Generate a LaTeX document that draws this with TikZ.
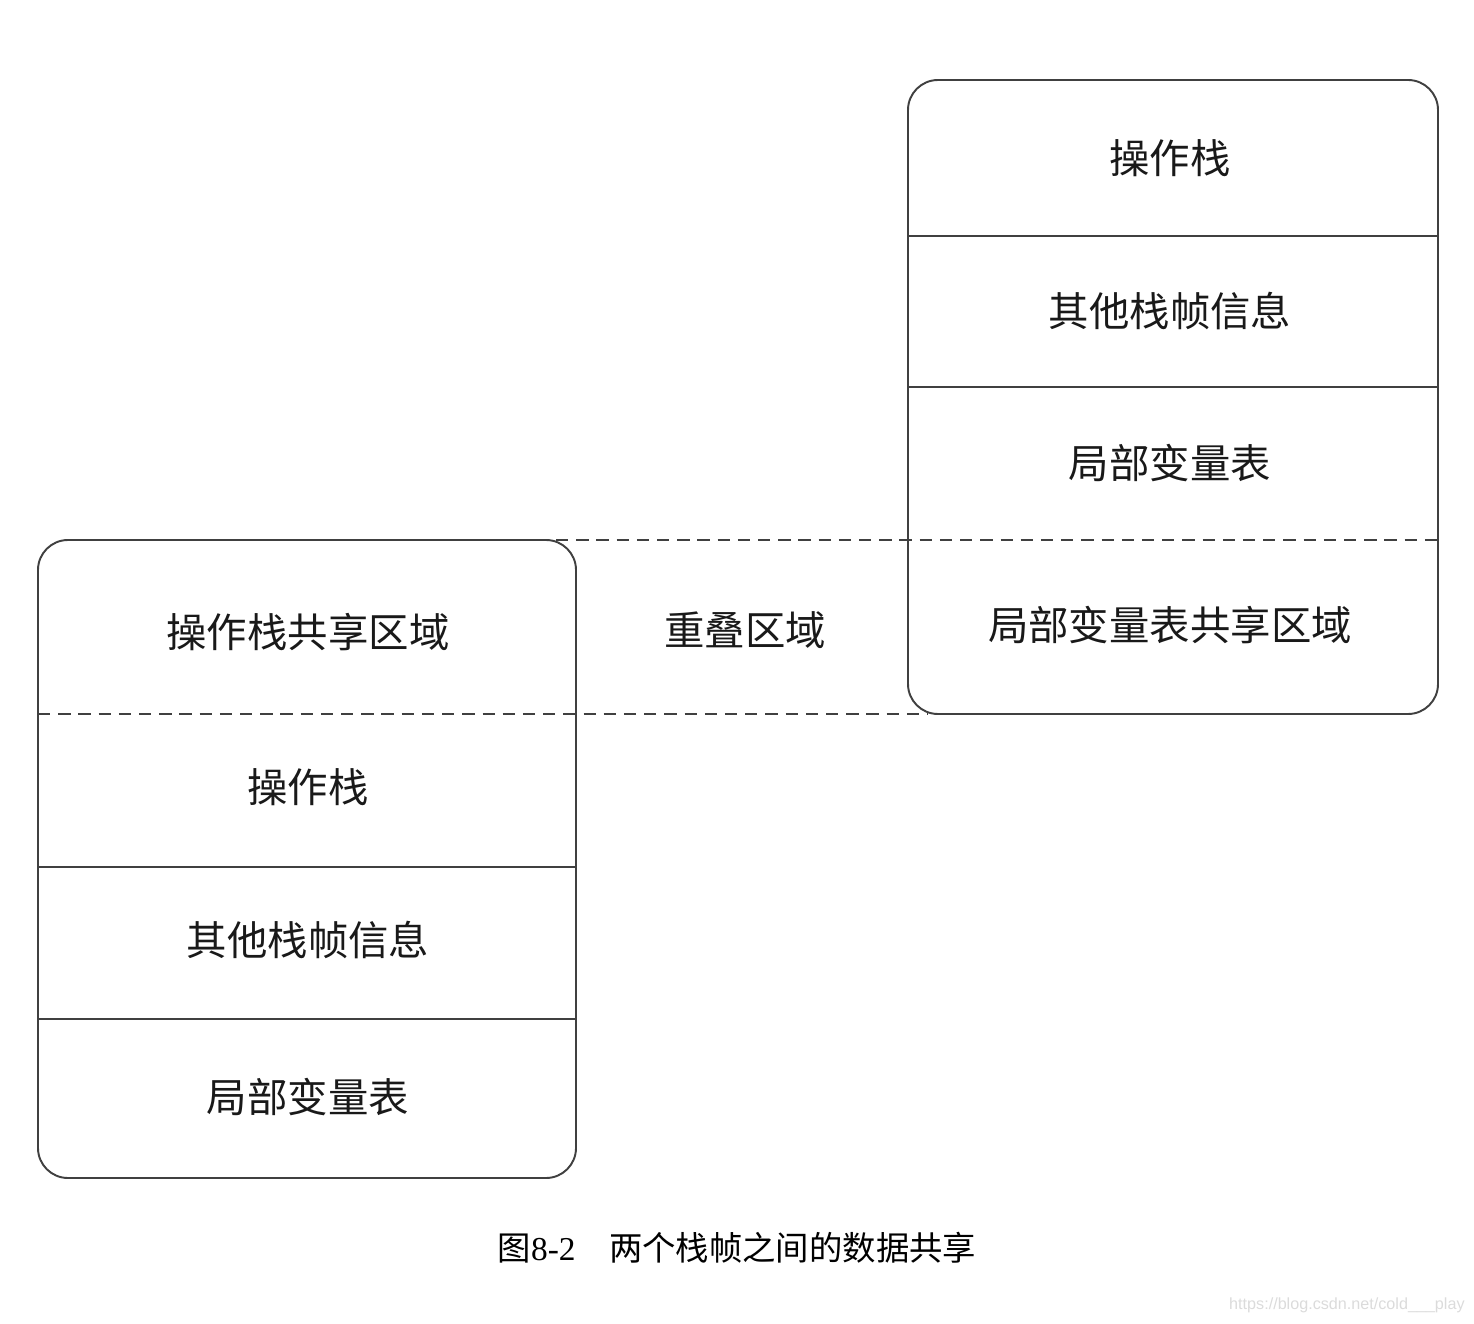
\documentclass[tikz,border=0pt]{standalone}
\usepackage{fontspec}
\setmainfont{Liberation Serif}
\newfontfamily\cjk{Noto Sans CJK SC}
\newfontfamily\wmfont{Liberation Sans}
\begin{document}
\begin{tikzpicture}[x=0.02cm,y=-0.02cm,
  frame/.style={draw=black!75,line width=1.1pt,rounded corners=0.6cm},
  divider/.style={draw=black!75,line width=1.1pt},
  dashline/.style={draw=black!75,line width=1.1pt,dash pattern=on 7pt off 4.5pt},
  cell/.style={font=\cjk\fontsize{23}{27}\selectfont,inner sep=0pt,text=black!90},
  captxt/.style={font=\fontsize{19}{22}\selectfont,inner sep=0pt},
  wm/.style={font=\wmfont\fontsize{9.2}{11}\selectfont,text=black!14,inner sep=0pt}]
\useasboundingbox (0,0) rectangle (1474,1324);
% right frame
\draw[frame] (908,80) rectangle (1438,714);
\draw[divider] (908,236) -- (1438,236);
\draw[divider] (908,387) -- (1438,387);
% left frame
\draw[frame] (38,540) rectangle (576,1178);
\draw[divider] (38,867) -- (576,867);
\draw[divider] (38,1019) -- (576,1019);
% overlap dashed lines
\coordinate (d1a) at (556,540);
\coordinate (d1b) at (1438,540);
\coordinate (d2a) at (38,714);
\coordinate (d2b) at (928,714);
\draw[dashline] (d1a) -- (d1b);
\draw[dashline] (d2a) -- (d2b);
% right texts
\node[cell] (r1) at (1170,158) {操作栈};
\node[cell] (r2) at (1170,311) {其他栈帧信息};
\node[cell] (r3) at (1170,463) {局部变量表};
\node[cell] (r4) at (1170,625) {局部变量表共享区域};
% middle
\node[cell] (mid) at (745,630) {重叠区域};
% left texts
\node[cell] (l1) at (308,632) {操作栈共享区域};
\node[cell] (l2) at (308,787) {操作栈};
\node[cell] (l3) at (308,940) {其他栈帧信息};
\node[cell] (l4) at (308,1097) {局部变量表};
% caption
\node[captxt] (cap) at (737,1248) {{\cjk 图}8-2\hspace{1em}{\cjk 两个栈帧之间的数据共享}};
\node[wm,anchor=east] (wmk) at (1465,1305) {https://blog.csdn.net/cold\_\_\_play};
\end{tikzpicture}
\end{document}
